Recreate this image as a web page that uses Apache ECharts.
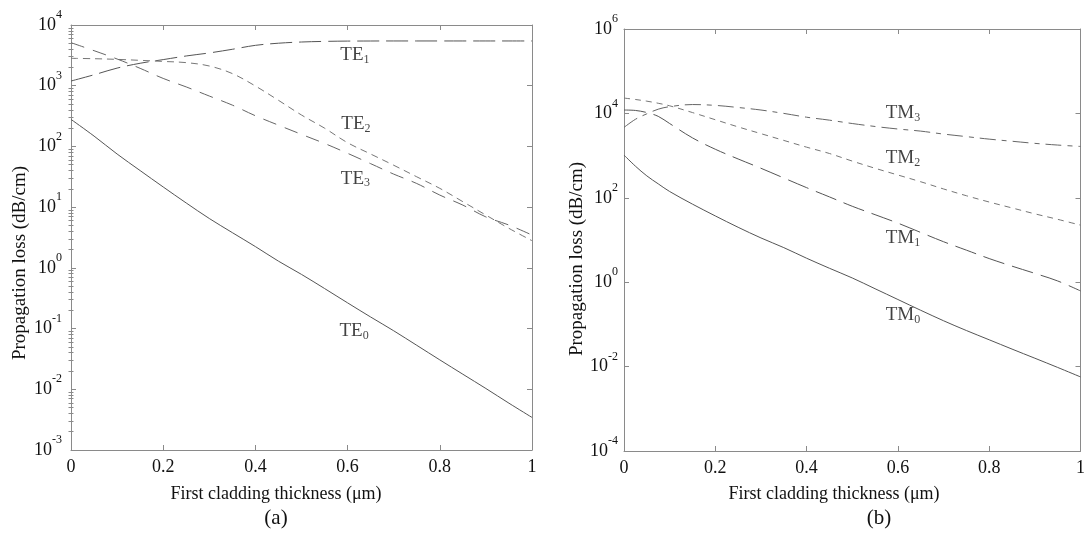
<!DOCTYPE html>
<html><head><meta charset="utf-8">
<script src="https://cdn.jsdelivr.net/npm/echarts@6/dist/echarts.min.js"></script>
<style>html,body{margin:0;padding:0;background:#fff}#c{width:1088px;height:550px}</style>
</head><body><div id="c"></div>
<script>
// ---------- data (a): TE modes ----------
const xTE = [0,0.05,0.1,0.15,0.2,0.25,0.3,0.35,0.4,0.45,0.5,0.55,0.6,0.65,0.7,0.75,0.8,0.85,0.9,0.95,1];
const te0 = [279,148,75,40,21.5,11.7,6.5,3.8,2.24,1.29,0.78,0.457,0.265,0.155,0.092,0.053,0.0305,0.0177,0.0103,0.0059,0.00344];
const te1 = [1194,1514,1950,2344,2692,3090,3467,3981,4624,5012,5248,5370,5433,5450,5460,5460,5460,5460,5460,5460,5460];
const te2 = [2825,2786,2716,2618,2512,2399,2113,1585,989,575,329,200,115,75,49,31.6,20.4,12.3,7.4,4.47,2.8];
const te3 = [5117,3776,2754,1932,1318,955,676,479,320,224,158,112,77,52,35,24.5,15.8,10.8,6.9,5.07,3.47];
// ---------- data (b): TM modes ----------
const xTM = [0,0.025,0.05,0.075,0.1,0.15,0.2,0.25,0.3,0.35,0.4,0.45,0.5,0.55,0.6,0.65,0.7,0.75,0.8,0.85,0.9,0.95,1];
const tm0 = [1028,562,331,214,141,70.8,37.2,20,11.2,6.6,3.7,2.14,1.26,0.70,0.389,0.216,0.122,0.0716,0.0432,0.026,0.0158,0.00955,0.0057];
const tm1 = [12020,11750,10470,8511,5754,2630,1413,832,501,295,174,105,63,39.8,25.1,15.1,9.1,5.75,3.63,2.4,1.62,1.07,0.622];
const tm2 = [23100,21380,19500,17380,15140,10470,7080,4790,3311,2291,1585,1122,741,501,347,240,162,112,79.4,57.5,41.7,30.9,22.5];
const tm3 = [4656,7244,9772,12590,14450,16220,15490,13800,12020,10000,8128,6918,5754,4898,4266,3802,3236,2818,2455,2188,1950,1778,1648];
// ---------- curve labels ----------
const labA_sub = ['0','1','2','3'];
const labA_x = [0.614,0.616,0.618,0.617];
const labA_y = [0.0885,3090,231,28.7];
const labB_sub = ['0','1','2','3'];
const labB_x = [0.611,0.611,0.611,0.611];
const labB_y = [0.16,10.6,832,10000];
// ---------- ticks ----------
const yMajorA = [1e-3,1e-2,1e-1,1,10,100,1000,10000];
const yMajorB = [1e-4,1e-2,1,100,1e4,1e6];
const yMinorA = [];
for (let k = -3; k < 4; k++) for (let m = 2; m < 10; m++) yMinorA.push(+(m * Math.pow(10, k)).toPrecision(3));

const FONT = 'Liberation Serif, Times New Roman, serif';
const FRAME = '#8a8a8a';
const pair = (xs, ys) => xs.map((x, i) => [x, ys[i]]);

function yLabel(v){ const e = Math.round(Math.log10(v)); return '{b|10}{s|' + e + '}'; }
const yRich = {
  b: {fontSize: 18, fontFamily: FONT, color: '#111', lineHeight: 32, verticalAlign: 'middle'},
  s: {fontSize: 12, fontFamily: FONT, color: '#111', lineHeight: 12, verticalAlign: 'top'}
};

function xAxes(gi){
  const base = {
    gridIndex: gi, type: 'value', min: 0, max: 1, interval: 0.2,
    axisLine: {show: true, onZero: false, lineStyle: {color: FRAME, width: 1}},
    axisTick: {show: true, inside: true, length: 5, lineStyle: {color: FRAME}},
    splitLine: {show: false}
  };
  return [
    Object.assign({}, base, {position: 'bottom',
      axisLabel: {show: true, margin: 8, fontSize: 18, fontFamily: FONT, color: '#111'}}),
    Object.assign({}, base, {position: 'top', axisLabel: {show: false}})
  ];
}
function yAxes(gi, min, max, major, minor, margin){
  const base = {
    gridIndex: gi, type: 'log', logBase: 10, min: min, max: max,
    splitLine: {show: false}, minorTick: {show: false}
  };
  const arr = [
    Object.assign({}, base, {position: 'left',
      axisLine: {show: true, onZero: false, lineStyle: {color: FRAME, width: 1}},
      axisTick: {show: true, inside: true, length: 5, customValues: major, lineStyle: {color: FRAME}},
      axisLabel: {show: true, customValues: major, margin: margin, formatter: yLabel, rich: yRich}}),
    Object.assign({}, base, {position: 'right',
      axisLine: {show: true, onZero: false, lineStyle: {color: FRAME, width: 1}},
      axisTick: {show: true, inside: true, length: 5, customValues: major, lineStyle: {color: FRAME}},
      axisLabel: {show: false}})
  ];
  if (minor) {
    ['left','right'].forEach(p => arr.push(Object.assign({}, base, {position: p,
      axisLine: {show: false},
      axisTick: {show: true, inside: true, length: 2.5, customValues: minor, lineStyle: {color: FRAME}},
      axisLabel: {show: false}})));
  }
  return arr;
}

function line(name, xs, ys, xi, yi, dash, color){
  return {name: name, type: 'line', xAxisIndex: xi, yAxisIndex: yi, data: pair(xs, ys),
    showSymbol: false, smooth: 0.35, silent: true, animation: false,
    lineStyle: {color: color, width: 1, type: dash}};
}
function labels(prefix, subs, xs, ys, xi, yi){
  return {type: 'scatter', xAxisIndex: xi, yAxisIndex: yi, symbolSize: 0, silent: true, animation: false,
    data: subs.map((s, i) => ({value: [xs[i], ys[i]], sub: s})),
    label: {show: true, position: 'inside',
      formatter: p => '{m|' + prefix + '}{u|' + p.data.sub + '}',
      rich: {
        m: {fontSize: 19, fontFamily: FONT, color: '#111', lineHeight: 20, verticalAlign: 'top'},
        u: {fontSize: 12, fontFamily: FONT, color: '#111', lineHeight: 12, verticalAlign: 'bottom'}
      }}};
}

const yA = yAxes(0, 1e-3, 1e4, yMajorA, yMinorA, 9);
const yB = yAxes(1, 1e-4, 1e6, yMajorB, null, 6);
const option = {
  animation: false,
  backgroundColor: '#fff',
  grid: [
    {left: 71, top: 25, width: 461, height: 425},
    {left: 624, top: 29, width: 459, height: 422}
  ],
  xAxis: xAxes(0).concat(xAxes(1)),
  yAxis: yA.concat(yB),
  series: [
    line('TE0', xTE, te0, 0, 0, 'solid', '#555'),
    line('TE1', xTE, te1, 0, 0, [22, 7], '#555'),
    line('TE2', xTE, te2, 0, 0, [7, 5], '#777'),
    line('TE3', xTE, te3, 0, 0, [14, 9], '#666'),
    labels('TE', labA_sub, labA_x, labA_y, 0, 0),
    line('TM0', xTM, tm0, 2, 4, 'solid', '#555'),
    line('TM1', xTM, tm1, 2, 4, [22, 8], '#555'),
    line('TM2', xTM, tm2, 2, 4, [6, 5], '#777'),
    line('TM3', xTM, tm3, 2, 4, [16, 6, 5, 6], '#666'),
    labels('TM', labB_sub, labB_x, labB_y, 2, 4)
  ],
  graphic: [
    {type: 'text', x: 20, y: 263, rotation: Math.PI / 2,
      style: {text: 'Propagation loss (dB/cm)', font: '19px ' + FONT, fill: '#111', align: 'center', verticalAlign: 'middle', textAlign: 'center', textVerticalAlign: 'middle'}},
    {type: 'text', x: 577, y: 259, rotation: Math.PI / 2,
      style: {text: 'Propagation loss (dB/cm)', font: '19px ' + FONT, fill: '#111', align: 'center', verticalAlign: 'middle', textAlign: 'center', textVerticalAlign: 'middle'}},
    {type: 'text', x: 276, y: 494,
      style: {text: 'First cladding thickness (\u03bcm)', font: '18px ' + FONT, fill: '#111', align: 'center', verticalAlign: 'middle', textAlign: 'center', textVerticalAlign: 'middle'}},
    {type: 'text', x: 834, y: 494,
      style: {text: 'First cladding thickness (\u03bcm)', font: '18px ' + FONT, fill: '#111', align: 'center', verticalAlign: 'middle', textAlign: 'center', textVerticalAlign: 'middle'}},
    {type: 'text', x: 276, y: 518,
      style: {text: '(a)', font: '21px ' + FONT, fill: '#111', align: 'center', verticalAlign: 'middle', textAlign: 'center', textVerticalAlign: 'middle'}},
    {type: 'text', x: 879, y: 518,
      style: {text: '(b)', font: '21px ' + FONT, fill: '#111', align: 'center', verticalAlign: 'middle', textAlign: 'center', textVerticalAlign: 'middle'}}
  ]
};
const chart = echarts.init(document.getElementById('c'), null, {renderer: 'canvas'});
chart.setOption(option);
</script>
</body></html>
